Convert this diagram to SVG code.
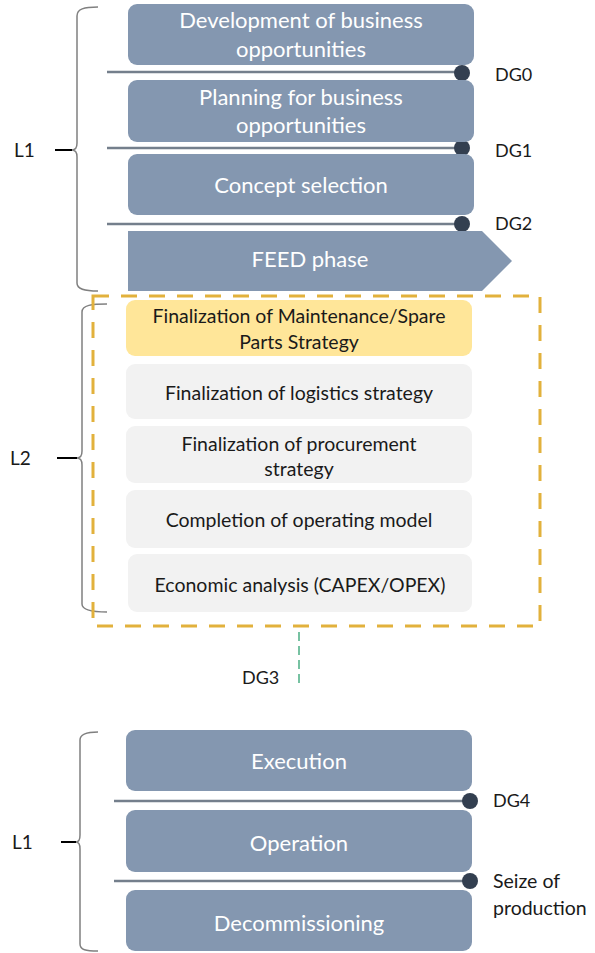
<svg xmlns="http://www.w3.org/2000/svg" width="595" height="953" viewBox="0 0 595 953">
<style>
text{font-family:Lato,"Open Sans","Liberation Sans",sans-serif;}
.phase{fill:#8497B0;}
.w{fill:#FFFFFF;font-size:22px;text-anchor:middle;}
.k{fill:#1A1A1A;font-size:19.5px;text-anchor:middle;}
.lab{fill:#1A1A1A;font-size:18px;}
.big{fill:#1A1A1A;font-size:19.5px;}
.lv{fill:#1A1A1A;font-size:19px;}
.gate{stroke:#747F8C;stroke-width:2.5;fill:none;}
.dot{fill:#333F50;}
.brace{stroke:#808080;stroke-width:1.5;fill:none;}
.tick{stroke:#000000;stroke-width:2;}
.task{fill:#F2F2F2;}
</style>
<rect width="595" height="953" fill="#FFFFFF"/>
<g id="braces">
<path class="brace" d="M98,7 C84,7 77,9 77,16 L77,143 C77,148 75,150 72,150 C75,150 77,152 77,157 L77,283 C77,289 84,291 98,291"/>
<line class="tick" x1="55" y1="150" x2="72" y2="150"/>
<path class="brace" d="M107,304 C92,304 82,305 82,312 L82,451 C82,456 80,458 77,458 C80,458 82,460 82,465 L82,604 C82,610 92,612 107,612"/>
<line class="tick" x1="57" y1="458" x2="77" y2="458"/>
<path class="brace" d="M98,732 C86,732 80,734 80,740 L80,835 C80,840 78,842 76,842 C78,842 80,844 80,849 L80,944 C80,950 86,951 98,951"/>
<line class="tick" x1="61" y1="842" x2="76" y2="842"/>
</g>
<g id="labels">
<text class="lv" x="14" y="157">L1</text>
<text class="lv" x="10" y="465">L2</text>
<text class="lv" x="12" y="849">L1</text>
</g>
<g id="connectors">
<line class="gate" x1="107" y1="72" x2="462" y2="72"/>
<line class="gate" x1="107" y1="148" x2="462" y2="148"/>
<line class="gate" x1="107" y1="224" x2="462" y2="224"/>
<line class="gate" x1="114" y1="801" x2="470" y2="801"/>
<line class="gate" x1="114" y1="881" x2="470" y2="881"/>
<line x1="299" y1="632" x2="299" y2="686" stroke="#4BAE84" stroke-width="1.5" stroke-dasharray="9,5"/>
</g>
<g id="gates">
<circle class="dot" cx="462" cy="73" r="8"/>
<text class="lab" x="495" y="81">DG0</text>
<circle class="dot" cx="462" cy="148" r="8"/>
<text class="lab" x="495" y="157">DG1</text>
<circle class="dot" cx="462" cy="224" r="8"/>
<text class="lab" x="495" y="230">DG2</text>
<text class="lab" x="242" y="684">DG3</text>
<circle class="dot" cx="470" cy="801" r="8"/>
<text class="lab" x="493" y="807">DG4</text>
<circle class="dot" cx="470" cy="881" r="8"/>
<text class="big" x="493" y="888">Seize of</text>
<text class="big" x="493" y="915">production</text>
</g>
<g id="dev">
<rect class="phase" x="128" y="4" width="346" height="61" rx="9"/>
<text class="w" x="301" y="28">Development of business</text>
<text class="w" x="301" y="57">opportunities</text>
</g>
<g id="plan">
<rect class="phase" x="128" y="80" width="346" height="62" rx="9"/>
<text class="w" x="301" y="105">Planning for business</text>
<text class="w" x="301" y="133">opportunities</text>
</g>
<g id="concept">
<rect class="phase" x="128" y="154" width="346" height="61" rx="9"/>
<text class="w" x="301" y="193">Concept selection</text>
</g>
<g id="feed">
<polygon class="phase" points="128,231 482,231 512,261 482,291 128,291"/>
<text class="w" x="310" y="267">FEED phase</text>
</g>
<g id="l2box">
<rect x="93" y="296" width="447" height="330" fill="none" stroke="#E2B13C" stroke-width="3" stroke-dasharray="16,12"/>
</g>
<g id="maint">
<rect x="126" y="300" width="346" height="56" rx="9" fill="#FFE699"/>
<text class="k" x="299" y="323">Finalization of Maintenance/Spare</text>
<text class="k" x="299" y="349">Parts Strategy</text>
</g>
<g id="logistics">
<rect class="task" x="126" y="364" width="346" height="55" rx="9"/>
<text class="k" x="299" y="400">Finalization of logistics strategy</text>
</g>
<g id="procurement">
<rect class="task" x="126" y="426" width="346" height="57" rx="9"/>
<text class="k" x="299" y="451">Finalization of procurement</text>
<text class="k" x="299" y="476">strategy</text>
</g>
<g id="operating">
<rect class="task" x="126" y="490" width="346" height="58" rx="9"/>
<text class="k" x="299" y="527">Completion of operating model</text>
</g>
<g id="economic">
<rect class="task" x="128" y="554" width="344" height="58" rx="9"/>
<text class="k" x="300" y="592">Economic analysis (CAPEX/OPEX)</text>
</g>
<g id="execution">
<rect class="phase" x="126" y="730" width="346" height="61" rx="9"/>
<text class="w" x="299" y="769">Execution</text>
</g>
<g id="operation">
<rect class="phase" x="126" y="810" width="346" height="62" rx="9"/>
<text class="w" x="299" y="851">Operation</text>
</g>
<g id="decom">
<rect class="phase" x="126" y="890" width="346" height="61" rx="9"/>
<text class="w" x="299" y="931">Decommissioning</text>
</g>
</svg>
